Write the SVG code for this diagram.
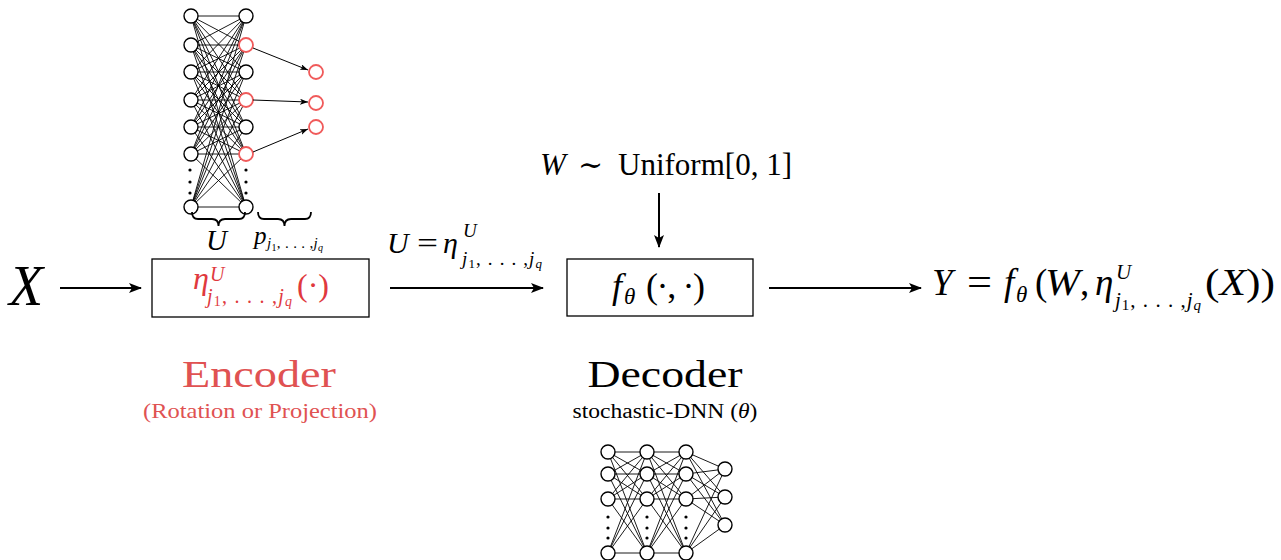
<svg xmlns="http://www.w3.org/2000/svg" width="1281" height="560" viewBox="0 0 1281 560">
<defs>
<marker id="ah" markerUnits="userSpaceOnUse" markerWidth="13" markerHeight="10" refX="12" refY="5" orient="auto">
<path d="M0,0 L13,5 L0,10 L3,5 z" fill="#000"/>
</marker>
<marker id="ahs" markerUnits="userSpaceOnUse" markerWidth="8" markerHeight="6" refX="8" refY="3" orient="auto">
<path d="M0,0 L8,3 L0,6 L2,3 z" fill="#000"/>
</marker>
</defs>
<style>
text{font-family:"Liberation Serif","Times New Roman","DejaVu Serif",serif;fill:#000}
.i{font-style:italic}
.red{fill:#e0393e}
.ered{fill:#e05252}
.box{fill:#fff;stroke:#000;stroke-width:1.3}
.arr{stroke:#000;stroke-width:2;fill:none;marker-end:url(#ah)}
.sarr{stroke:#000;stroke-width:1;fill:none;marker-end:url(#ahs)}
.w{stroke:#000;stroke-width:0.9;fill:none}
.n{fill:#fff;stroke:#000;stroke-width:1.4}
.nr{fill:#fff;stroke:#f05a5a;stroke-width:1.8}
.dot{fill:#000}
.brace{stroke:#000;stroke-width:1.8;fill:none}
</style>

<g id="encoder-network">
<g class="w">
<path d="M191 16L246 16M191 16L246 45M191 16L246 72M191 16L246 100M191 16L246 127M191 16L246 154M191 16L246 207"/>
<path d="M191 45L246 16M191 45L246 45M191 45L246 72M191 45L246 100M191 45L246 127M191 45L246 154M191 45L246 207"/>
<path d="M191 72L246 16M191 72L246 45M191 72L246 72M191 72L246 100M191 72L246 127M191 72L246 154M191 72L246 207"/>
<path d="M191 100L246 16M191 100L246 45M191 100L246 72M191 100L246 100M191 100L246 127M191 100L246 154M191 100L246 207"/>
<path d="M191 127L246 16M191 127L246 45M191 127L246 72M191 127L246 100M191 127L246 127M191 127L246 154M191 127L246 207"/>
<path d="M191 154L246 16M191 154L246 45M191 154L246 72M191 154L246 100M191 154L246 127M191 154L246 154M191 154L246 207"/>
<path d="M191 207L246 16M191 207L246 45M191 207L246 72M191 207L246 100M191 207L246 127M191 207L246 154M191 207L246 207"/>
</g>
<circle class="n" cx="191" cy="16" r="7"/>
<circle class="n" cx="191" cy="45" r="7"/>
<circle class="n" cx="191" cy="72" r="7"/>
<circle class="n" cx="191" cy="100" r="7"/>
<circle class="n" cx="191" cy="127" r="7"/>
<circle class="n" cx="191" cy="154" r="7"/>
<circle class="n" cx="191" cy="207" r="7"/>
<circle class="n" cx="246" cy="16" r="7"/>
<circle class="nr" cx="246" cy="45" r="7"/>
<circle class="n" cx="246" cy="72" r="7"/>
<circle class="nr" cx="246" cy="100" r="7"/>
<circle class="n" cx="246" cy="127" r="7"/>
<circle class="nr" cx="246" cy="154" r="7"/>
<circle class="n" cx="246" cy="207" r="7"/>
<circle class="dot" cx="190" cy="170" r="1.6"/>
<circle class="dot" cx="190" cy="182" r="1.6"/>
<circle class="dot" cx="190" cy="193" r="1.6"/>
<circle class="dot" cx="246" cy="170" r="1.6"/>
<circle class="dot" cx="246" cy="182" r="1.6"/>
<circle class="dot" cx="246" cy="193" r="1.6"/>
<path class="sarr" d="M253 48L308 70"/>
<path class="sarr" d="M253 100L308 102"/>
<path class="sarr" d="M253 152L308 129"/>
<circle class="nr" cx="316" cy="72" r="7"/>
<circle class="nr" cx="316" cy="103" r="7"/>
<circle class="nr" cx="316" cy="127" r="7"/>
<path class="brace" d="M192 212Q192 219 198 219L212 219Q218.5 219 218.5 226Q218.5 219 225 219L239 219Q245 219 245 212"/>
<path class="brace" d="M258 212Q258 219 264 219L278 219Q284.5 219 284.5 226Q284.5 219 291 219L305 219Q311 219 311 212"/>
<text class="i" x="206" y="250" font-size="29">U</text>
<text class="i" x="254" y="244" font-size="25">p</text>
<text class="i" x="267" y="248" font-size="15" textLength="56" lengthAdjust="spacing">j<tspan font-size="10" dy="3" font-style="normal">1</tspan><tspan dy="-3" font-style="normal">, . . . ,</tspan>j<tspan font-size="10" dy="3">q</tspan></text>
</g>

<g id="input-x">
<text class="i" x="9" y="305" font-size="56">X</text>
</g>

<g id="encoder">
<rect class="box" x="152" y="259" width="217" height="58"/>
<text class="i red" x="193" y="289" font-size="32">η</text>
<text class="i red" x="210" y="281" font-size="20">U</text>
<text class="i red" x="207" y="303" font-size="20" textLength="85" lengthAdjust="spacing">j<tspan font-size="14" dy="3" font-style="normal">1</tspan><tspan dy="-3" font-style="normal">, . . . ,</tspan>j<tspan font-size="14" dy="3">q</tspan></text>
<text class="red" x="297" y="296" font-size="32">(·)</text>
<text class="ered" x="259" y="387" font-size="37" text-anchor="middle" textLength="154" lengthAdjust="spacingAndGlyphs">Encoder</text>
<text class="ered" x="260" y="418" font-size="21" text-anchor="middle" textLength="234" lengthAdjust="spacingAndGlyphs">(Rotation or Projection)</text>
</g>

<g id="noise-w">
<text class="i" x="540" y="175" font-size="31">W</text>
<text x="578" y="175" font-size="30">∼</text>
<text x="618" y="175" font-size="31" textLength="174" lengthAdjust="spacingAndGlyphs">Uniform[0, 1]</text>
</g>

<g id="decoder">
<rect class="box" x="567" y="259" width="186" height="57"/>
<text class="i" x="612" y="298" font-size="36">f</text>
<text class="i" x="624" y="304" font-size="23">θ</text>
<text x="646" y="298" font-size="36" textLength="59" lengthAdjust="spacing">(·, ·)</text>
<text x="665" y="387" font-size="37" text-anchor="middle" textLength="155" lengthAdjust="spacingAndGlyphs">Decoder</text>
<text x="665" y="418" font-size="20" text-anchor="middle" textLength="185" lengthAdjust="spacingAndGlyphs">stochastic-DNN (<tspan class="i">θ</tspan>)</text>
</g>

<g id="decoder-network">
<g class="w">
<path d="M608 452L647 452M608 452L647 474M608 452L647 499M608 452L647 553M608 474L647 452M608 474L647 474M608 474L647 499M608 474L647 553M608 499L647 452M608 499L647 474M608 499L647 499M608 499L647 553M608 553L647 452M608 553L647 474M608 553L647 499M608 553L647 553"/>
<path d="M647 452L686 452M647 452L686 474M647 452L686 499M647 452L686 553M647 474L686 452M647 474L686 474M647 474L686 499M647 474L686 553M647 499L686 452M647 499L686 474M647 499L686 499M647 499L686 553M647 553L686 452M647 553L686 474M647 553L686 499M647 553L686 553"/>
<path d="M686 452L725 469M686 452L725 497M686 452L725 525M686 474L725 469M686 474L725 497M686 474L725 525M686 499L725 469M686 499L725 497M686 499L725 525M686 553L725 469M686 553L725 497M686 553L725 525"/>
</g>
<circle class="n" cx="608" cy="452" r="7"/>
<circle class="n" cx="608" cy="474" r="7"/>
<circle class="n" cx="608" cy="499" r="7"/>
<circle class="n" cx="608" cy="553" r="7"/>
<circle class="n" cx="647" cy="452" r="7"/>
<circle class="n" cx="647" cy="474" r="7"/>
<circle class="n" cx="647" cy="499" r="7"/>
<circle class="n" cx="647" cy="553" r="7"/>
<circle class="n" cx="686" cy="452" r="7"/>
<circle class="n" cx="686" cy="474" r="7"/>
<circle class="n" cx="686" cy="499" r="7"/>
<circle class="n" cx="686" cy="553" r="7"/>
<circle class="n" cx="725" cy="469" r="7"/>
<circle class="n" cx="725" cy="497" r="7"/>
<circle class="n" cx="725" cy="525" r="7"/>
<circle class="dot" cx="608" cy="517" r="1.6"/>
<circle class="dot" cx="608" cy="528" r="1.6"/>
<circle class="dot" cx="608" cy="538" r="1.6"/>
<circle class="dot" cx="647" cy="517" r="1.6"/>
<circle class="dot" cx="647" cy="528" r="1.6"/>
<circle class="dot" cx="647" cy="538" r="1.6"/>
<circle class="dot" cx="686" cy="517" r="1.6"/>
<circle class="dot" cx="686" cy="528" r="1.6"/>
<circle class="dot" cx="686" cy="538" r="1.6"/>
</g>

<g id="output-y">
<text class="i" x="932" y="295" font-size="37">Y</text>
<text x="967" y="295" font-size="37" textLength="25" lengthAdjust="spacingAndGlyphs">=</text>
<text class="i" x="1004" y="295" font-size="37">f</text>
<text class="i" x="1016" y="302" font-size="23">θ</text>
<text x="1035" y="295" font-size="37">(</text>
<text class="i" x="1045" y="295" font-size="37" textLength="35" lengthAdjust="spacingAndGlyphs">W</text>
<text x="1080" y="295" font-size="37">,</text>
<text class="i" x="1095" y="295" font-size="37">η</text>
<text class="i" x="1116" y="279" font-size="21">U</text>
<text class="i" x="1115" y="307" font-size="21" textLength="86" lengthAdjust="spacing">j<tspan font-size="15" dy="3" font-style="normal">1</tspan><tspan dy="-3" font-style="normal">, . . . ,</tspan>j<tspan font-size="15" dy="3">q</tspan></text>
<text x="1205" y="295" font-size="37" textLength="70" lengthAdjust="spacingAndGlyphs">(<tspan class="i">X</tspan>))</text>
</g>

<g id="connectors">
<path class="arr" d="M60 288L141 288"/>
<path class="arr" d="M390 288L543 288"/>
<path class="arr" d="M659 193L659 247"/>
<path class="arr" d="M769 288L921 288"/>
</g>

<g id="labels">
<text class="i" x="387" y="253" font-size="30">U</text>
<text x="417" y="253" font-size="30" textLength="21" lengthAdjust="spacingAndGlyphs">=</text>
<text class="i" x="443" y="253" font-size="30">η</text>
<text class="i" x="463" y="237" font-size="19">U</text>
<text class="i" x="462" y="265" font-size="19" textLength="80" lengthAdjust="spacing">j<tspan font-size="13" dy="3" font-style="normal">1</tspan><tspan dy="-3" font-style="normal">, . . . ,</tspan>j<tspan font-size="13" dy="3">q</tspan></text>
</g>
</svg>
